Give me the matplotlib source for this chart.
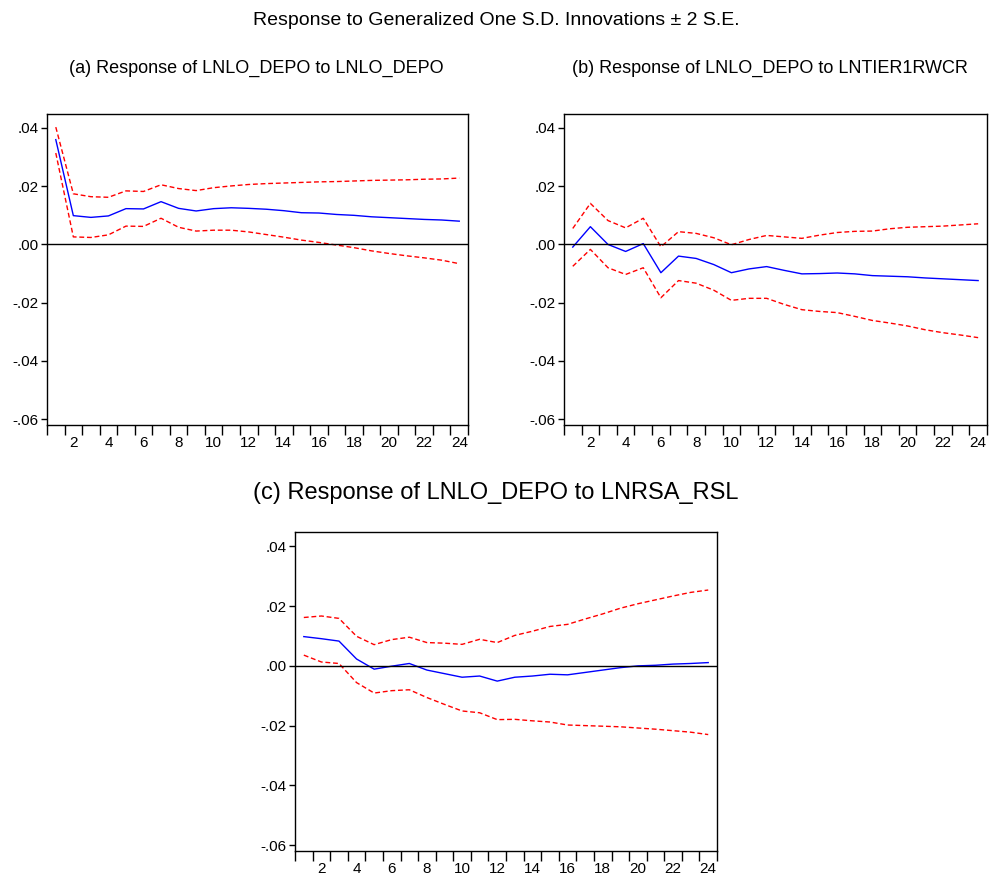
import numpy as np
import matplotlib
matplotlib.use("Agg")
import matplotlib.pyplot as plt

# periods 1..24
periods = np.arange(1, 25)

# (a) LNLO_DEPO -> LNLO_DEPO
a_resp = [0.0360, 0.0099, 0.0093, 0.0098, 0.0123, 0.0122, 0.0147, 0.0124, 0.0115, 0.0123,
          0.0126, 0.0124, 0.0121, 0.0116, 0.0109, 0.0108, 0.0103, 0.0100, 0.0095, 0.0092,
          0.0089, 0.0086, 0.0084, 0.0080]
a_upper = [0.0403, 0.0174, 0.0164, 0.0162, 0.0184, 0.0182, 0.0205, 0.0192, 0.0185, 0.0195,
           0.0201, 0.0206, 0.0209, 0.0211, 0.0213, 0.0215, 0.0216, 0.0218, 0.0220, 0.0221,
           0.0222, 0.0224, 0.0225, 0.0228]
a_lower = [0.0314, 0.0026, 0.0024, 0.0033, 0.0063, 0.0062, 0.0090, 0.0059, 0.0046, 0.0049,
           0.0049, 0.0043, 0.0034, 0.0025, 0.0015, 0.0007, -0.0002, -0.0011, -0.0022, -0.0031,
           -0.0039, -0.0046, -0.0054, -0.0066]

# (b) LNLO_DEPO -> LNTIER1RWCR
b_resp = [-0.0009, 0.0061, 0.0000, -0.0024, 0.0003, -0.0097, -0.0040, -0.0048, -0.0069, -0.0097,
          -0.0084, -0.0076, -0.0089, -0.0101, -0.0100, -0.0098, -0.0101, -0.0107, -0.0109, -0.0111,
          -0.0115, -0.0118, -0.0121, -0.0124]
b_upper = [0.0055, 0.0141, 0.0082, 0.0057, 0.0090, -0.0008, 0.0044, 0.0038, 0.0023, -0.0001,
           0.0017, 0.0031, 0.0026, 0.0021, 0.0032, 0.0041, 0.0045, 0.0046, 0.0054, 0.0059,
           0.0061, 0.0063, 0.0067, 0.0071]
b_lower = [-0.0075, -0.0017, -0.0080, -0.0103, -0.0080, -0.0183, -0.0124, -0.0133, -0.0157, -0.0192,
           -0.0185, -0.0185, -0.0206, -0.0224, -0.0230, -0.0234, -0.0247, -0.0261, -0.0270, -0.0280,
           -0.0293, -0.0303, -0.0311, -0.0320]

# (c) LNLO_DEPO -> LNRSA_RSL
c_resp = [0.0098, 0.0091, 0.0083, 0.0023, -0.0011, -0.0001, 0.0008, -0.0014, -0.0026, -0.0038,
          -0.0034, -0.0051, -0.0038, -0.0034, -0.0028, -0.0030, -0.0022, -0.0014, -0.0006, 0.0000,
          0.0002, 0.0006, 0.0008, 0.0011]
c_upper = [0.0162, 0.0167, 0.0159, 0.0099, 0.0071, 0.0088, 0.0096, 0.0078, 0.0076, 0.0072,
           0.0089, 0.0078, 0.0102, 0.0116, 0.0132, 0.0139, 0.0157, 0.0174, 0.0193, 0.0208,
           0.0221, 0.0234, 0.0246, 0.0254]
c_lower = [0.0036, 0.0013, 0.0008, -0.0056, -0.0091, -0.0083, -0.0080, -0.0106, -0.0129, -0.0151,
           -0.0157, -0.0180, -0.0179, -0.0184, -0.0188, -0.0198, -0.0200, -0.0202, -0.0204, -0.0208,
           -0.0212, -0.0217, -0.0222, -0.0230]

y_ticks = [0.04, 0.02, 0.00, -0.02, -0.04, -0.06]
y_labels = [".04", ".02", ".00", "-.02", "-.04", "-.06"]

plt.rcParams['font.family'] = ['Liberation Sans', 'DejaVu Sans']

fig = plt.figure(figsize=(9.92, 8.77), dpi=100)


def irf_panel(rect, resp, upper, lower):
    ax = fig.add_axes(rect)
    ax.plot(periods, upper, color='red', ls='--', lw=1.0, dashes=(3.5, 2))
    ax.plot(periods, lower, color='red', ls='--', lw=1.0, dashes=(3.5, 2))
    ax.plot(periods, resp, color='blue', lw=1.0)
    ax.axhline(0, color='black', lw=1.0)
    ax.set_xlim(0.5, 24.5)
    ax.set_ylim(-0.062, 0.0448)
    ax.set_yticks(y_ticks)
    ax.set_yticklabels(y_labels, fontsize=11)
    # ticks at period boundaries, labels at even periods
    ax.set_xticks(np.arange(0.5, 25, 1))
    ax.set_xticklabels([])
    ax.set_xticks(np.arange(2, 25, 2), minor=True)
    ax.set_xticklabels([str(p) for p in range(2, 25, 2)], minor=True, fontsize=11)
    ax.tick_params(axis='x', which='major', direction='out', length=7, width=1)
    ax.tick_params(axis='x', which='minor', length=0, pad=8)
    ax.tick_params(axis='y', direction='out', length=4, width=1, pad=2)
    for s in ax.spines.values():
        s.set_linewidth(1.0)
    return ax


irf_panel([0.0474, 0.5154, 0.4244, 0.3546], a_resp, a_upper, a_lower)
irf_panel([0.5685, 0.5154, 0.4264, 0.3546], b_resp, b_upper, b_lower)
irf_panel([0.2974, 0.0296, 0.4254, 0.3637], c_resp, c_upper, c_lower)

fig.text(0.5, 0.977, "Response to Generalized One S.D. Innovations \u00b1 2 S.E.",
         ha='center', va='center', fontsize=14)
fig.text(0.258, 0.922, "(a) Response of LNLO_DEPO to LNLO_DEPO",
         ha='center', va='center', fontsize=13)
fig.text(0.776, 0.922, "(b) Response of LNLO_DEPO to LNTIER1RWCR",
         ha='center', va='center', fontsize=13)
fig.text(0.5, 0.438, "(c) Response of LNLO_DEPO to LNRSA_RSL",
         ha='center', va='center', fontsize=17)

fig.savefig("out.png", dpi=100)
